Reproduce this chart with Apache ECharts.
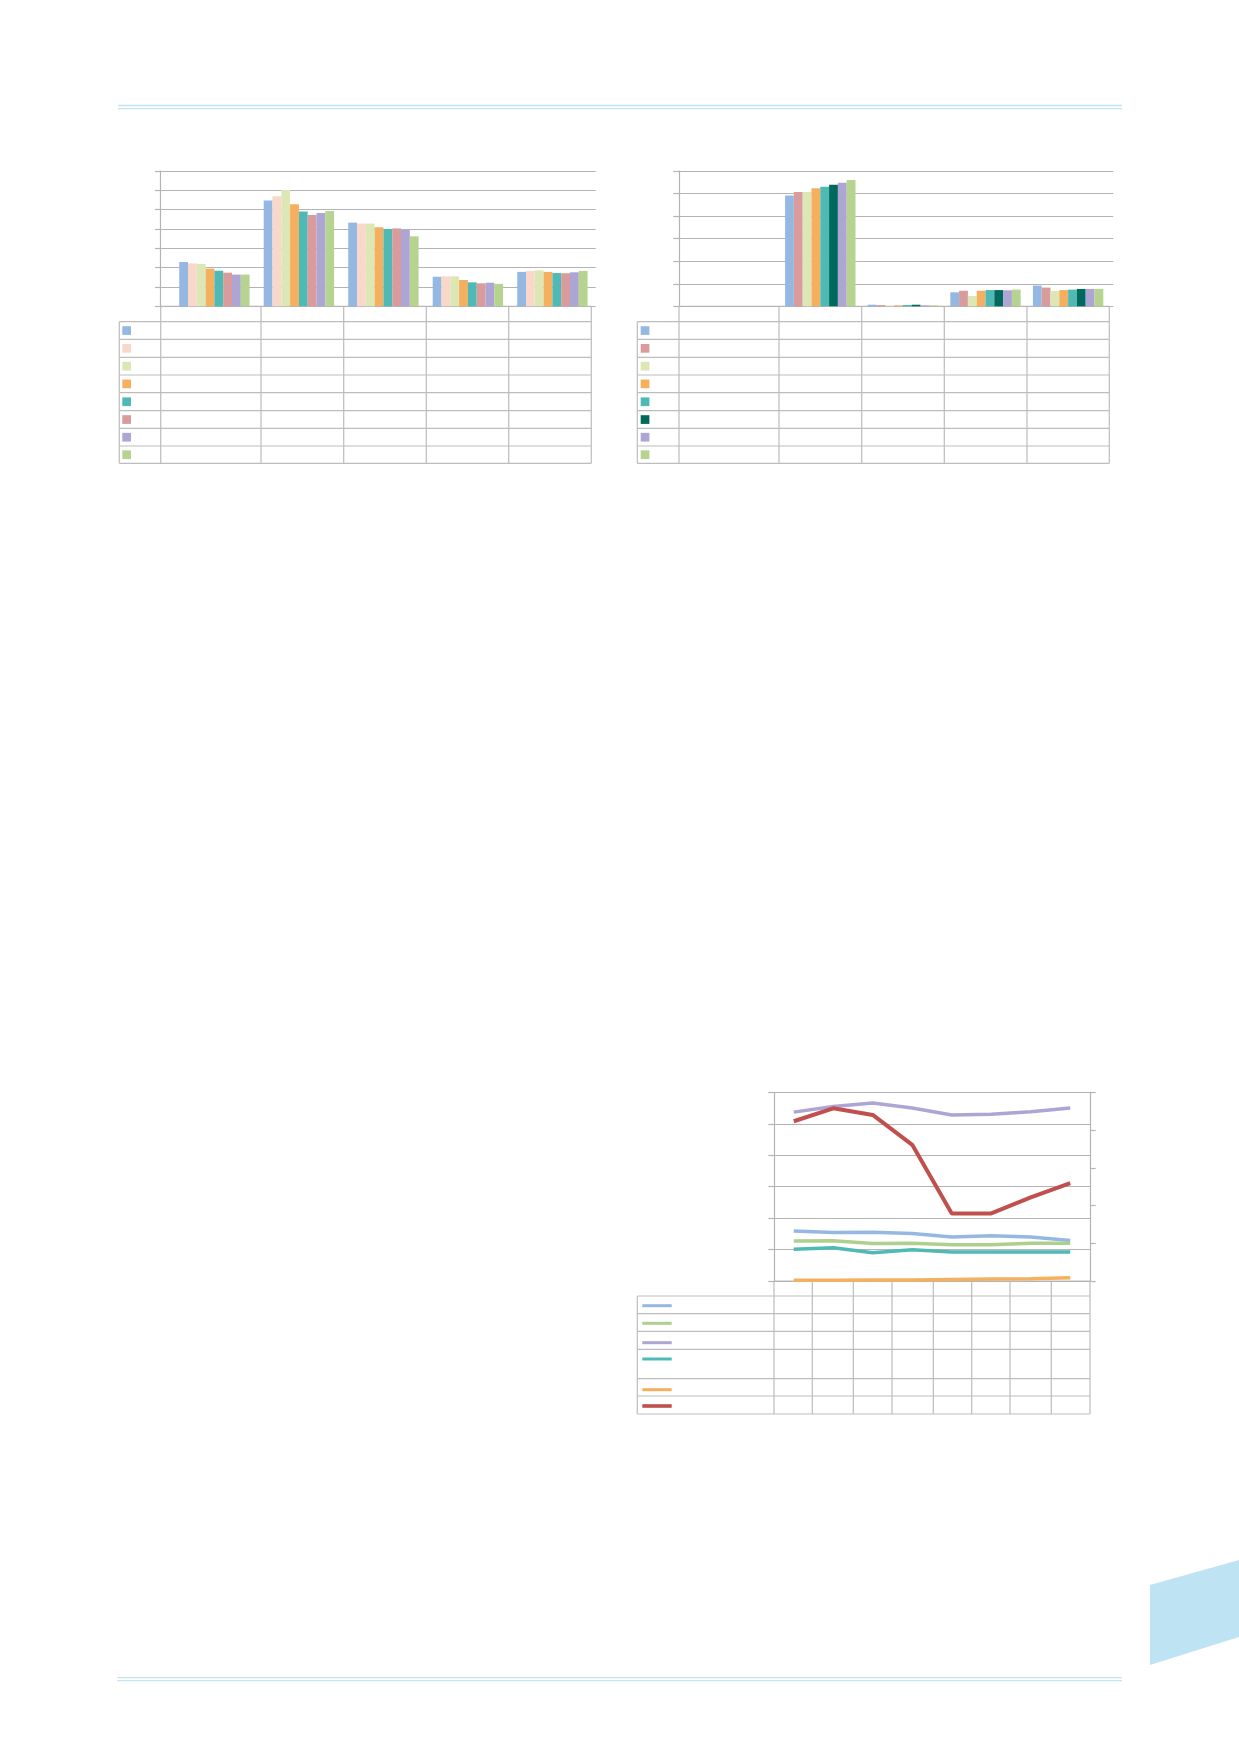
<!DOCTYPE html>
<html><head><meta charset="utf-8">
<script src="https://cdn.jsdelivr.net/npm/echarts@6/dist/echarts.min.js"></script>
<style>html,body{margin:0;padding:0;background:#fff}#c{width:1239px;height:1752px}</style>
</head><body><div id="c"></div>
<script>
// ---------- DATA ----------
// Chart A (top left): 5 categories, 8 series
const catsA = ['A1', 'A2', 'A3', 'A4', 'A5'];
const a1 = [2.29, 5.48, 4.33, 1.53, 1.78];
const a2 = [2.22, 5.69, 4.28, 1.55, 1.83];
const a3 = [2.19, 6.02, 4.28, 1.55, 1.86];
const a4 = [1.95, 5.28, 4.09, 1.36, 1.78];
const a5 = [1.84, 4.91, 4.00, 1.24, 1.72];
const a6 = [1.74, 4.72, 4.03, 1.19, 1.71];
const a7 = [1.64, 4.83, 3.97, 1.22, 1.76];
const a8 = [1.64, 4.93, 3.62, 1.16, 1.83];
// Chart B (top right): 5 categories, 8 series
const catsB = ['B1', 'B2', 'B3', 'B4', 'B5'];
const b1 = [null, 4.91, 0.07, 0.62, 0.92];
const b2 = [null, 5.07, 0.05, 0.69, 0.83];
const b3 = [null, 5.07, 0.02, 0.46, 0.68];
const b4 = [null, 5.23, 0.04, 0.69, 0.72];
const b5 = [null, 5.30, 0.06, 0.72, 0.74];
const b6 = [null, 5.39, 0.07, 0.72, 0.77];
const b7 = [null, 5.48, 0.04, 0.71, 0.77];
const b8 = [null, 5.60, 0.04, 0.74, 0.77];
// Chart C (bottom): 8 periods, 6 lines
const catsC = ['C1', 'C2', 'C3', 'C4', 'C5', 'C6', 'C7', 'C8'];
const cBlue = [1.59, 1.54, 1.55, 1.51, 1.40, 1.44, 1.40, 1.29];
const cGreen = [1.27, 1.28, 1.19, 1.20, 1.15, 1.15, 1.20, 1.20];
const cLavender = [5.37, 5.55, 5.66, 5.50, 5.28, 5.30, 5.38, 5.50];
const cTeal = [1.01, 1.06, 0.90, 0.99, 0.92, 0.92, 0.92, 0.92];
const cOrange = [0.02, 0.02, 0.03, 0.03, 0.05, 0.06, 0.07, 0.10];
const cRed = [5.08, 5.49, 5.28, 4.33, 2.15, 2.15, 2.66, 3.11];

// ---------- STYLE ----------
const colorsA = ['#95b8e3', '#f9d8ca', '#dde7b6', '#f5b05f', '#4fbab5', '#d99b9b', '#ada5d3', '#b6d48f'];
const colorsB = ['#95b8e3', '#d99b9b', '#dde7b6', '#f5b05f', '#4fbab5', '#00695b', '#ada5d3', '#b6d48f'];
const colorsC = ['#95b8e3', '#aed08e', '#ada5d3', '#4fbab5', '#f5b05f', '#c0504d'];
const GRID = '#b4b4b4';
const TABLE = '#bdbdbd';
const DECO = '#c3e4f3';

const seriesA = [a1, a2, a3, a4, a5, a6, a7, a8];
const seriesB = [b1, b2, b3, b4, b5, b6, b7, b8];
const seriesC = [cBlue, cGreen, cLavender, cTeal, cOrange, cRed];

const chart = echarts.init(document.getElementById('c'), null, {renderer: 'canvas'});

function frameY(gridIndex, max, withSplit, pos) {
  return {
    type: 'value', gridIndex, min: 0, max, interval: 1, position: pos || 'left',
    axisLabel: {show: false},
    axisLine: {show: true, lineStyle: {color: GRID, width: 1.2}},
    axisTick: {show: true, length: 5.7, lineStyle: {color: GRID, width: 1.2}},
    splitLine: {show: withSplit, lineStyle: {color: GRID, width: 1.2}}
  };
}
function hiddenY(gridIndex, max) {
  return {type: 'value', gridIndex, min: 0, max, show: false, splitLine: {show: false}};
}

// table graphics
const g = [];
function hl(x1, x2, y, c, w) { g.push({type: 'line', silent: true, shape: {x1, y1: y, x2, y2: y}, style: {stroke: c || TABLE, lineWidth: w || 1.2}}); }
function vl(x, y1, y2) { g.push({type: 'line', silent: true, shape: {x1: x, y1, x2: x, y2}, style: {stroke: TABLE, lineWidth: 1.2}}); }
function table(colX, rowY, legendLeft) {
  const right = colX[colX.length - 1];
  hl(colX[0], right, rowY[0]);
  for (let i = 1; i < rowY.length; i++) hl(legendLeft, right, rowY[i]);
  vl(legendLeft, rowY[1], rowY[rowY.length - 1]);
  colX.forEach(x => vl(x, rowY[0], rowY[rowY.length - 1]));
}
const rowsTop = [306.3, 321.7, 339.3, 357.3, 375, 392.7, 410.7, 428.3, 446, 463.3];
table([160.7, 261, 343.7, 426.3, 508.7, 591.3], rowsTop, 119.3);
table([679, 779, 861.7, 944.3, 1027, 1109.3], rowsTop, 637.3);
table([774, 812.3, 853.3, 892, 933.3, 971.7, 1010, 1051.3, 1090],
      [1281, 1296, 1313.7, 1331.3, 1349.3, 1378.7, 1396, 1414], 637.3);

// legend swatches
colorsA.forEach((c, i) => {
  const cy = (rowsTop[i + 1] + rowsTop[i + 2]) / 2;
  g.push({type: 'rect', silent: true, shape: {x: 122.3, y: cy - 4.3, width: 8.7, height: 8.7}, style: {fill: c}});
});
colorsB.forEach((c, i) => {
  const cy = (rowsTop[i + 1] + rowsTop[i + 2]) / 2;
  g.push({type: 'rect', silent: true, shape: {x: 640.7, y: cy - 4.3, width: 8.7, height: 8.7}, style: {fill: c}});
});
const swC = [1305.7, 1323.3, 1342.7, 1359, 1389.7, 1406];
colorsC.forEach((c, i) => {
  g.push({type: 'line', silent: true, shape: {x1: 642.3, y1: swC[i], x2: 671.7, y2: swC[i]}, style: {stroke: c, lineWidth: i === 5 ? 3.6 : 3}});
});

// decorative page elements
hl(118, 1122, 105.5, DECO, 1.3); hl(118, 1122, 108.6, DECO, 1.3);
hl(117.3, 1122, 1677.6, DECO, 1.3); hl(117.3, 1122, 1680.7, DECO, 1.3);
g.push({type: 'polygon', silent: true, shape: {points: [[1150, 1585], [1239, 1560], [1239, 1637], [1150, 1665]]}, style: {fill: '#bee3f2'}});

const barSeries = [];
seriesA.forEach((d, i) => barSeries.push({
  type: 'bar', name: 'A' + (i + 1), data: d, xAxisIndex: 1, yAxisIndex: 1,
  barWidth: 8.8, barGap: '0%', itemStyle: {color: colorsA[i]}, silent: true
}));
seriesB.forEach((d, i) => barSeries.push({
  type: 'bar', name: 'B' + (i + 1), data: d, xAxisIndex: 3, yAxisIndex: 3,
  barWidth: 8.8, barGap: '0%', itemStyle: {color: colorsB[i]}, silent: true
}));
const lineSeries = seriesC.map((d, i) => ({
  type: 'line', name: 'C' + (i + 1), data: d, xAxisIndex: 4, yAxisIndex: 4,
  showSymbol: false, symbol: 'none', lineStyle: {color: colorsC[i], width: i === 5 ? 4 : 3.5},
  z: i === 5 ? 3 : 2, silent: true
}));

chart.setOption({
  animation: false,
  grid: [
    {left: 160.7, top: 171, width: 435, height: 135.3},
    {left: 172.15, top: 171, width: 422.5, height: 135.3},
    {left: 679, top: 171, width: 434.3, height: 135.3},
    {left: 696.4, top: 171, width: 413, height: 135.3},
    {left: 774, top: 1092.3, width: 316, height: 188.7}
  ],
  xAxis: [
    {type: 'category', gridIndex: 0, data: catsA, show: false},
    {type: 'category', gridIndex: 1, data: catsA, show: false},
    {type: 'category', gridIndex: 2, data: catsB, show: false},
    {type: 'category', gridIndex: 3, data: catsB, show: false},
    {type: 'category', gridIndex: 4, data: catsC, boundaryGap: true,
     axisLabel: {show: false}, axisTick: {show: false},
     axisLine: {show: true, lineStyle: {color: GRID, width: 1.2}}}
  ],
  yAxis: [
    frameY(0, 7, true),
    hiddenY(1, 7),
    frameY(2, 6, true),
    hiddenY(3, 6),
    frameY(4, 6, true),
    (function () { const y = frameY(4, 5, false, 'right'); return y; })()
  ],
  series: barSeries.concat(lineSeries),
  graphic: g
});
</script></body></html>
